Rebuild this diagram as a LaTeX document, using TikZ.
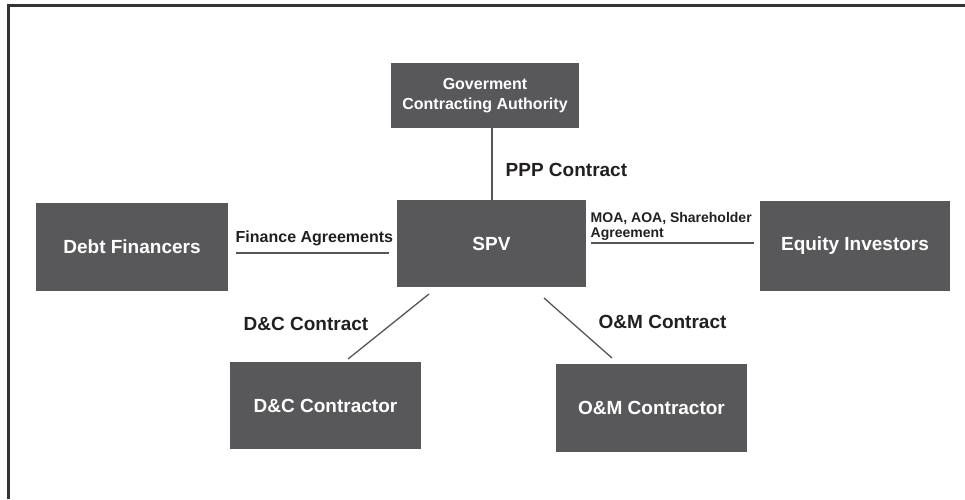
\documentclass[tikz,border=0pt]{standalone}
\usepackage{fontspec}
\setmainfont{Liberation Sans}
\definecolor{boxgray}{HTML}{58585A}
\definecolor{linegray}{HTML}{555557}
\definecolor{txt}{HTML}{231F20}
\definecolor{framec}{HTML}{333335}
\begin{document}
\begin{tikzpicture}[x=1pt,y=-1pt,
  boxnode/.style={fill=boxgray,draw=none,inner sep=0pt,text=white,font=\bfseries\fontsize{19}{22}\selectfont,align=center},
  lbl/.style={inner sep=0pt,text=txt,font=\bfseries\fontsize{19}{22}\selectfont,anchor=base west},
  conn/.style={draw=linegray,line width=1.3pt}]
\useasboundingbox (0,0) rectangle (965,499);
% frame (only top and left visible)
\draw[framec,line width=2.2pt] (8.5,499) -- (8.5,5.5) -- (965,5.5);
% boxes
\node[boxnode,minimum width=188pt,minimum height=65pt,font=\bfseries\fontsize{16}{19.5}\selectfont] (gov) at (485,95.5) {Goverment\\Contracting Authority};
\node[boxnode,minimum width=189pt,minimum height=87pt] (spv) at (491.5,243.5) {SPV};
\node[boxnode,minimum width=192pt,minimum height=88pt] (debt) at (132,247) {Debt Financers};
\node[boxnode,minimum width=190pt,minimum height=90pt] (eq) at (855,246) {Equity Investors};
\node[boxnode,minimum width=191pt,minimum height=87pt] (dc) at (325.5,405.5) {D\&C Contractor};
\node[boxnode,minimum width=191pt,minimum height=88pt] (om) at (651.5,408) {O\&M Contractor};
% connector end points
\coordinate (govb) at (492,128);
\coordinate (spvt) at (492,200);
\coordinate (fa1) at (236,253);
\coordinate (fa2) at (389,253);
\coordinate (moa1) at (591,243);
\coordinate (moa2) at (754,243);
\coordinate (dc1) at (429,294);
\coordinate (dc2) at (348,359);
\coordinate (om1) at (544,298);
\coordinate (om2) at (612,358);
% connectors
\draw[conn] (govb) -- (spvt);
\draw[conn] (fa1) -- (fa2);
\draw[conn] (moa1) -- (moa2);
\draw[conn] (dc1) -- (dc2);
\draw[conn] (om1) -- (om2);
% labels
\node[lbl] (ppp) at (505.5,176) {PPP Contract};
\node[lbl,font=\bfseries\fontsize{16}{19}\selectfont] (fin) at (235.5,242) {Finance Agreements};
\node[lbl,font=\bfseries\fontsize{14}{14}\selectfont] (moa) at (590.5,222.7) {MOA, AOA, Shareholder};
\node[lbl,font=\bfseries\fontsize{14}{14}\selectfont] (moa2l) at (590.5,237) {Agreement};
\node[lbl] (dcl) at (243.5,330) {D\&C Contract};
\node[lbl] (oml) at (598.5,328) {O\&M Contract};
\end{tikzpicture}
\end{document}
